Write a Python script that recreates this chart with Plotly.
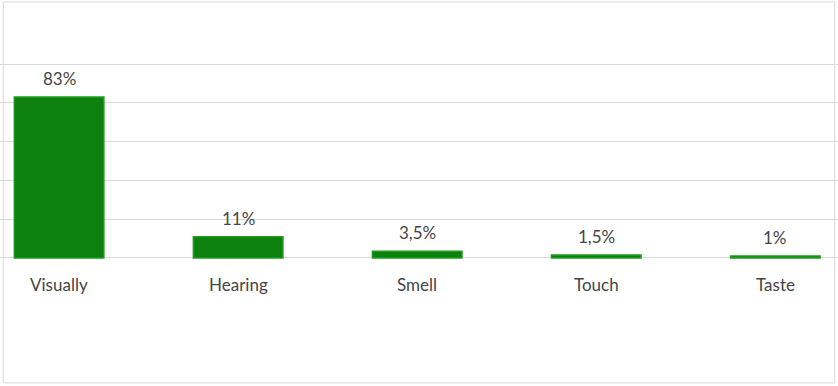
import plotly.graph_objects as go

categories = ["Visually", "Hearing", "Smell", "Touch", "Taste"]
values = [83, 11, 3.5, 1.5, 1]
value_labels = ["83%", "11%", "3,5%", "1,5%", "1%"]
grid_ticks = [0, 20, 40, 60, 80, 100]

FONT = "Lato"
TXT = "#454545"

fig = go.Figure()
fig.add_trace(go.Bar(
    x=categories,
    y=values,
    marker=dict(color="#0d810d", line=dict(color="#1f9a1f", width=1.5)),
    width=0.5,
    hoverinfo="skip",
))

for c, v, lab in zip(categories, values, value_labels):
    fig.add_annotation(x=c, y=v, yshift=6, text=lab, showarrow=False,
                       yanchor="bottom", xanchor="center",
                       font=dict(family=FONT, size=17, color=TXT))
    fig.add_annotation(x=c, y=0, yshift=-27, text=c, showarrow=False,
                       yanchor="middle", xanchor="center",
                       font=dict(family=FONT, size=17, color=TXT))

fig.add_shape(type="rect", xref="paper", yref="paper", x0=0.004, x1=0.996,
              y0=0.008, y1=0.995, line=dict(color="#d9d9d9", width=1), layer="below")

fig.update_layout(
    width=838, height=386,
    margin=dict(l=0, r=0, t=0, b=0),
    paper_bgcolor="white", plot_bgcolor="white",
    showlegend=False,
    hovermode=False,
    xaxis=dict(range=[-0.33, 4.35], showticklabels=False, showgrid=False,
               zeroline=False, showline=False, ticks="", fixedrange=True),
    yaxis=dict(range=[-66, 133], tickvals=grid_ticks, showticklabels=False,
               showgrid=True, gridcolor="#d9d9d9", gridwidth=1,
               zeroline=False, showline=False, ticks="", fixedrange=True),
)

fig.write_html("out.html", config={"displayModeBar": False},
               post_script="document.body.style.margin='0';document.body.style.overflow='hidden';")
